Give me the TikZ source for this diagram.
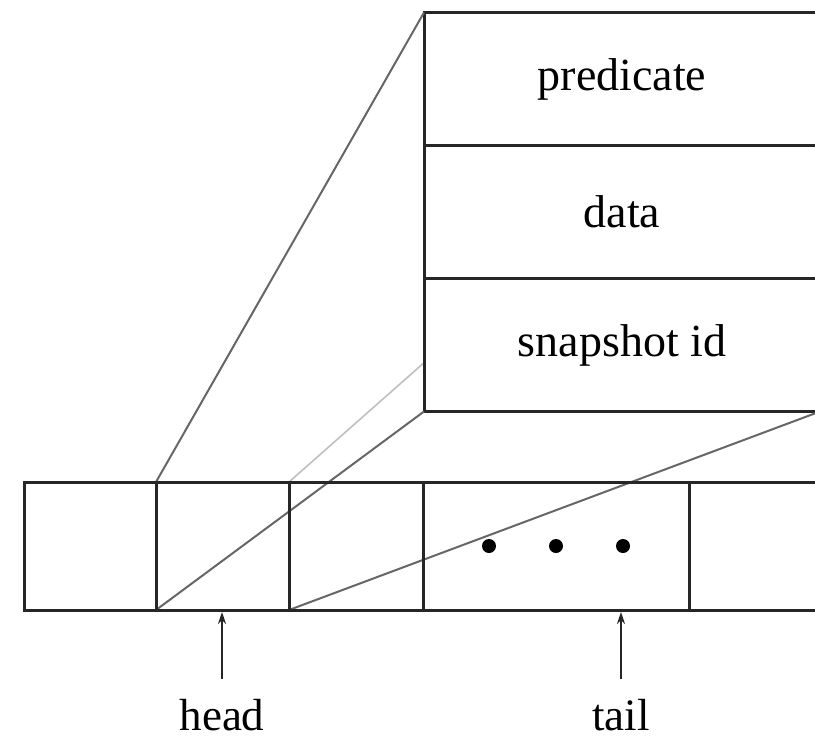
\documentclass[tikz,border=0pt]{standalone}
\usepackage{fontspec}
\setmainfont{Liberation Serif}
\usetikzlibrary{arrows.meta}
\begin{document}
\begin{tikzpicture}[x=1pt,y=-1pt,
  rowbox/.style={draw=black!85,line width=3pt,fill=white,minimum width=396pt,minimum height=133pt,inner sep=0pt,outer sep=0pt,font=\fontsize{46}{55}\selectfont},
  cellbox/.style={draw=black!85,line width=3pt,minimum height=128pt,inner sep=0pt,outer sep=0pt},
  diag/.style={draw=black!60,line width=2pt},
  faint/.style={draw=black!25,line width=1.6pt},
  ptr/.style={draw=black!85,line width=2.2pt,-{Stealth[length=12pt,width=8pt]}},
  lbl/.style={inner sep=0pt,anchor=base,font=\fontsize{45}{54}\selectfont},
  dot/.style={circle,fill=black,inner sep=0pt,minimum size=14pt}]
\clip (0,0) rectangle (815,742);
% array cells
\node[cellbox,minimum width=132pt] (c1) at (90,546) {};
\node[cellbox,minimum width=133pt] (c2) at (222.5,546) {};
\node[cellbox,minimum width=134pt] (c3) at (356,546) {};
\node[cellbox,minimum width=266pt] (c4) at (556,546) {};
\node[cellbox,minimum width=133pt] (c5) at (755.5,546) {};
% hidden edge of the zoomed cell (goes behind the box)
\coordinate (hid) at (820,13);
\draw[faint] (c2.north east) -- (hid);
% zoomed box
\node[rowbox] (r1) at (622,79) {predicate};
\node[rowbox] (r2) at (622,212) {data};
\node[rowbox] (r3) at (622,345) {snapshot id};
% perspective edges
\draw[diag] (c2.north west) -- (r1.north west);
\draw[diag] (c2.south west) -- (r3.south west);
\draw[diag] (c2.south east) -- (r3.south east);
% redraw cell borders over diagonals
\node[cellbox,minimum width=133pt] at (222.5,546) {};
\node[cellbox,minimum width=134pt] at (356,546) {};
\node[cellbox,minimum width=266pt] at (556,546) {};
% dots
\node[dot] (d1) at (489,546) {};
\node[dot] (d2) at (556,546) {};
\node[dot] (d3) at (623,546) {};
% pointers
\node[lbl] (head) at (222,730) {head};
\node[lbl] (tail) at (621,730) {tail};
\coordinate (hp) at (222,612);
\coordinate (tp) at (621,612);
\draw[ptr] ([yshift=20pt]head.north) -- (hp);
\draw[ptr] ([yshift=20pt]tail.north) -- (tp);
\end{tikzpicture}
\end{document}
